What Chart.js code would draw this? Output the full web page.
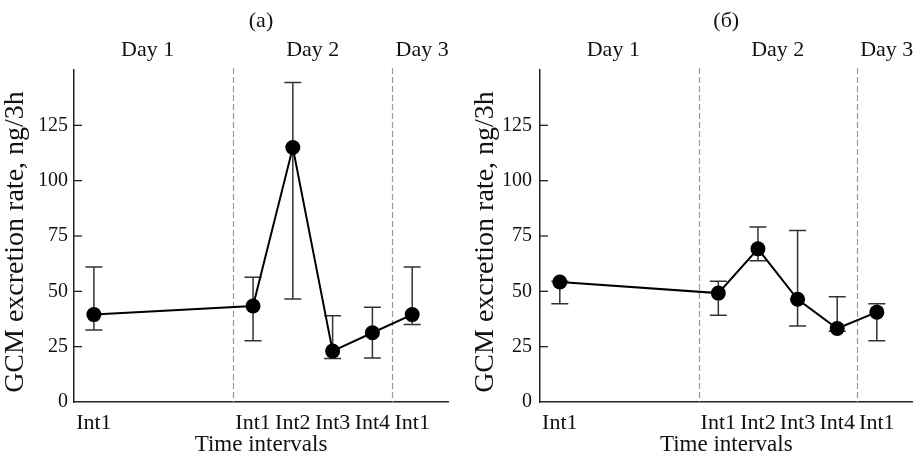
<!DOCTYPE html>
<html>
<head>
<meta charset="utf-8">
<script src="https://cdn.jsdelivr.net/npm/chart.js@4.4.1/dist/chart.umd.min.js"></script>
<style>
  html, body { margin: 0; padding: 0; background: #fff; }
  #wrap { position: relative; width: 920px; height: 457px; }
  canvas { position: absolute; top: 0; }
  #cA { left: 0; }
  #cB { left: 460px; }
</style>
</head>
<body>
<div id="wrap">
  <canvas id="cA" width="460" height="457"></canvas>
  <canvas id="cB" width="460" height="457"></canvas>
</div>
<script>
// ---- data ----
const categories = ['Int1', 'Int1', 'Int2', 'Int3', 'Int4', 'Int1'];
const xPositions = [0, 4, 5, 6, 7, 8];
const dayLabels = ['Day 1', 'Day 2', 'Day 3'];
const dayCenters = [1.35, 5.5, 8.25];
const dayBoundaries = [3.5, 7.5];
const yTicks = [0, 25, 50, 75, 100, 125];

const titleA = '(a)';
const valuesA = [39.5, 43.4, 115, 23, 31.3, 39.5];
const upperA  = [61, 56.4, 144.4, 39, 42.8, 61];
const lowerA  = [32.5, 27.7, 46.5, 19.6, 19.9, 35];

const titleB = '(б)';
const valuesB = [54.2, 49.2, 69.2, 46.4, 33.2, 40.6];
const upperB  = [54.5, 54.5, 79.1, 77.5, 47.6, 44.4];
const lowerB  = [44.4, 39.2, 63.8, 34.3, 32, 27.7];

const xTitle = 'Time intervals';
const yTitle = 'GCM excretion rate, ng/3h';

// ---- styling ----
const FAM = '"Liberation Serif", "Times New Roman", serif';
const txtColor = '#111';

function makeDecor(cfg) {
  return {
    id: 'decor',
    beforeDatasetsDraw(chart) {
      const { ctx, chartArea, scales: { x, y } } = chart;
      ctx.save();
      // day boundaries
      ctx.strokeStyle = '#9a9a9a';
      ctx.lineWidth = 1.2;
      ctx.setLineDash([6, 3]);
      dayBoundaries.forEach(b => {
        const px = Math.round(x.getPixelForValue(b)) + 0.5;
        ctx.beginPath();
        ctx.moveTo(px, chartArea.top - 2);
        ctx.lineTo(px, chartArea.bottom);
        ctx.stroke();
      });
      ctx.setLineDash([]);
      // inward y tick marks
      ctx.strokeStyle = '#222';
      ctx.lineWidth = 1.3;
      yTicks.forEach(v => {
        if (v === 0) return;
        const py = y.getPixelForValue(v);
        ctx.beginPath();
        ctx.moveTo(chartArea.left, py);
        ctx.lineTo(chartArea.left + 8, py);
        ctx.stroke();
      });
      // error bars
      ctx.strokeStyle = '#333';
      ctx.lineWidth = 1.5;
      xPositions.forEach((xv, i) => {
        const px = x.getPixelForValue(xv);
        const pt = y.getPixelForValue(cfg.upper[i]);
        const pb = y.getPixelForValue(cfg.lower[i]);
        ctx.beginPath();
        ctx.moveTo(px, pt); ctx.lineTo(px, pb);
        ctx.moveTo(px - 8.5, pt); ctx.lineTo(px + 8.5, pt);
        ctx.moveTo(px - 8.5, pb); ctx.lineTo(px + 8.5, pb);
        ctx.stroke();
      });
      ctx.restore();
    },
    afterDraw(chart) {
      const { ctx, chartArea, scales: { x } } = chart;
      ctx.save();
      ctx.fillStyle = txtColor;
      ctx.font = '22px ' + FAM;
      ctx.textAlign = 'center';
      ctx.textBaseline = 'middle';
      ctx.fillText(cfg.title, (chartArea.left + chartArea.right) / 2, 21);
      dayLabels.forEach((d, i) => {
        ctx.fillText(d, x.getPixelForValue(dayCenters[i]), 50);
      });
      // rotated y-axis title
      ctx.save();
      ctx.translate(cfg.yTitleX, 242);
      ctx.rotate(-Math.PI / 2);
      ctx.font = '28px ' + FAM;
      ctx.fillText(yTitle, 0, 0);
      ctx.restore();
      ctx.restore();
    }
  };
}

function makeChart(id, cfg) {
  return new Chart(document.getElementById(id), {
    type: 'line',
    data: {
      datasets: [{
        data: xPositions.map((xv, i) => ({ x: xv, y: cfg.values[i] })),
        borderColor: '#000',
        borderWidth: 2,
        pointRadius: 7.5,
        pointBackgroundColor: '#000',
        pointBorderColor: '#000',
        pointBorderWidth: 0,
        tension: 0
      }]
    },
    options: {
      responsive: false,
      animation: false,
      events: [],
      layout: { padding: { left: 0, top: 70, right: cfg.padRight, bottom: 0 } },
      plugins: { legend: { display: false }, tooltip: { enabled: false }, title: { display: false } },
      scales: {
        x: {
          type: 'linear', min: -0.5, max: 8.9,
          grid: { display: false, drawTicks: false },
          border: { display: true, color: '#222', width: 1.5 },
          afterBuildTicks: s => { s.ticks = xPositions.map(v => ({ value: v })); },
          ticks: {
            autoSkip: false, maxRotation: 0, padding: 8, color: txtColor,
            font: { family: FAM, size: 22 },
            callback: (v) => categories[xPositions.indexOf(v)]
          },
          title: { display: true, text: xTitle, color: txtColor, font: { family: FAM, size: 23, lineHeight: 1.0 }, padding: { top: 0, bottom: 1 } },
          afterFit: s => { s.height = 55; }
        },
        y: {
          min: 0, max: 150,
          grid: { display: false, drawTicks: false },
          border: { display: true, color: '#222', width: 1.5 },
          afterBuildTicks: s => { s.ticks = yTicks.map(v => ({ value: v })); },
          ticks: { padding: cfg.yTickPad, color: txtColor, font: { family: FAM, size: 20 } },
          title: { display: false },
          afterFit: s => { s.width = cfg.yWidth; }
        }
      }
    },
    plugins: [makeDecor(cfg)]
  });
}

makeChart('cA', { title: titleA, values: valuesA, upper: upperA, lower: lowerA, yWidth: 74, padRight: 12, yTickPad: 6, yTitleX: 16 });
makeChart('cB', { title: titleB, values: valuesB, upper: upperB, lower: lowerB, yWidth: 80, padRight: 6, yTickPad: 8, yTitleX: 26 });
</script>
</body>
</html>
